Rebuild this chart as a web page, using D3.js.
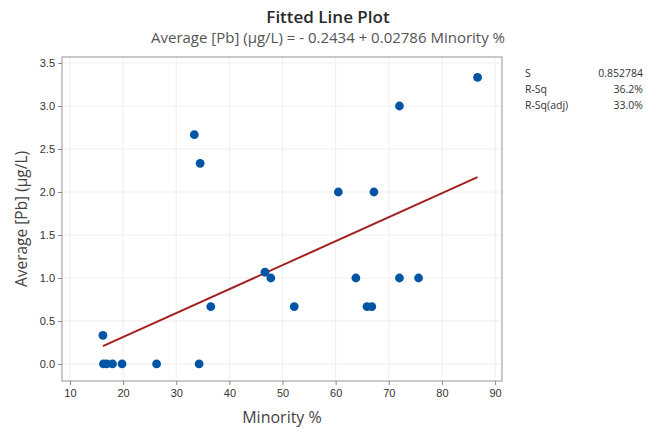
<!DOCTYPE html>
<html>
<head>
<meta charset="utf-8">
<script src="https://cdn.jsdelivr.net/npm/d3@7"></script>
<style>
  body { margin: 0; background: #fff; }
  svg { font-family: "Open Sans", "Noto Sans", sans-serif; }
</style>
</head>
<body>
<div id="chart"></div>
<script>
// data
const minority = [16.2, 16.3, 16.9, 18.0, 19.8, 26.3, 34.3, 36.5, 46.7, 47.8, 52.2,
  63.8, 65.9, 66.8, 72.0, 75.6, 60.5, 67.2, 72.0, 86.7, 33.4, 34.5];
const avgPb = [0.333, 0, 0, 0, 0, 0, 0, 0.667, 1.067, 1.0, 0.667,
  1.0, 0.667, 0.667, 1.0, 1.0, 2.0, 2.0, 3.0, 3.333, 2.667, 2.333];
const intercept = -0.2434;
const slope = 0.02786;
const xTicks = [10, 20, 30, 40, 50, 60, 70, 80, 90];
const yTicks = [0, 0.5, 1.0, 1.5, 2.0, 2.5, 3.0, 3.5];
const stats = [["S", "0.852784"], ["R-Sq", "36.2%"], ["R-Sq(adj)", "33.0%"]];

const width = 658, height = 432;
const plot = { left: 62, right: 502, top: 57, bottom: 381 };

const svg = d3.select("#chart").append("svg")
  .attr("width", width).attr("height", height);

const x = d3.scaleLinear().domain([8.5, 91.3]).range([plot.left, plot.right]);
const y = d3.scaleLinear().domain([-0.198, 3.57]).range([plot.bottom, plot.top]);

// gridlines
svg.append("g").selectAll("line").data(xTicks).join("line")
  .attr("x1", d => x(d)).attr("x2", d => x(d))
  .attr("y1", plot.top).attr("y2", plot.bottom)
  .attr("stroke", "#efefef").attr("stroke-width", 1);
svg.append("g").selectAll("line").data(yTicks).join("line")
  .attr("y1", d => y(d)).attr("y2", d => y(d))
  .attr("x1", plot.left).attr("x2", plot.right)
  .attr("stroke", "#efefef").attr("stroke-width", 1);

// frame
svg.append("rect")
  .attr("x", plot.left).attr("y", plot.top)
  .attr("width", plot.right - plot.left).attr("height", plot.bottom - plot.top)
  .attr("fill", "none").attr("stroke", "#a6a6a6").attr("stroke-width", 1.2);

// axes
const xAxis = d3.axisBottom(x).tickValues(xTicks).tickSize(4).tickSizeOuter(0);
const yAxis = d3.axisLeft(y).tickValues(yTicks).tickSize(4).tickSizeOuter(0)
  .tickFormat(d3.format(".1f"));

const gx = svg.append("g").attr("transform", `translate(0,${plot.bottom})`).call(xAxis);
const gy = svg.append("g").attr("transform", `translate(${plot.left},0)`).call(yAxis);
[gx, gy].forEach(g => {
  g.select(".domain").remove();
  g.selectAll(".tick line").attr("stroke", "#888");
  g.selectAll(".tick text").attr("fill", "#333").style("font-size", "11px");
});
gx.selectAll(".tick text").attr("dy", "0.85em");

// fitted line
const xMin = d3.min(minority), xMax = d3.max(minority);
svg.append("line")
  .attr("x1", x(xMin)).attr("y1", y(intercept + slope * xMin))
  .attr("x2", x(xMax)).attr("y2", y(intercept + slope * xMax))
  .attr("stroke", "#a3201f").attr("stroke-width", 2);

// points
svg.append("g").selectAll("circle").data(minority).join("circle")
  .attr("cx", d => x(d))
  .attr("cy", (d, i) => y(avgPb[i]))
  .attr("r", 4.4)
  .attr("fill", "#0054a6");

// titles
svg.append("text").attr("x", 328).attr("y", 23)
  .attr("text-anchor", "middle").attr("fill", "#2a2a2a")
  .style("font-size", "17px").style("font-weight", "600")
  .text("Fitted Line Plot");
svg.append("text").attr("x", 328).attr("y", 43)
  .attr("text-anchor", "middle").attr("fill", "#555")
  .style("font-size", "15px")
  .text("Average [Pb] (µg/L) = - 0.2434 + 0.02786 Minority %");

svg.append("text").attr("x", 282).attr("y", 423)
  .attr("text-anchor", "middle").attr("fill", "#444")
  .style("font-size", "16px")
  .text("Minority %");
svg.append("text")
  .attr("transform", `translate(27,${(plot.top + plot.bottom) / 2}) rotate(-90)`)
  .attr("text-anchor", "middle").attr("fill", "#444")
  .style("font-size", "15.5px")
  .text("Average [Pb] (µg/L)");

// stats table
const st = svg.append("g").style("font-size", "10.5px").attr("fill", "#333");
stats.forEach((s, i) => {
  st.append("text").attr("x", 525).attr("y", 77 + i * 16).text(s[0]);
  st.append("text").attr("x", 643).attr("y", 77 + i * 16)
    .attr("text-anchor", "end").text(s[1]);
});
</script>
</body>
</html>
